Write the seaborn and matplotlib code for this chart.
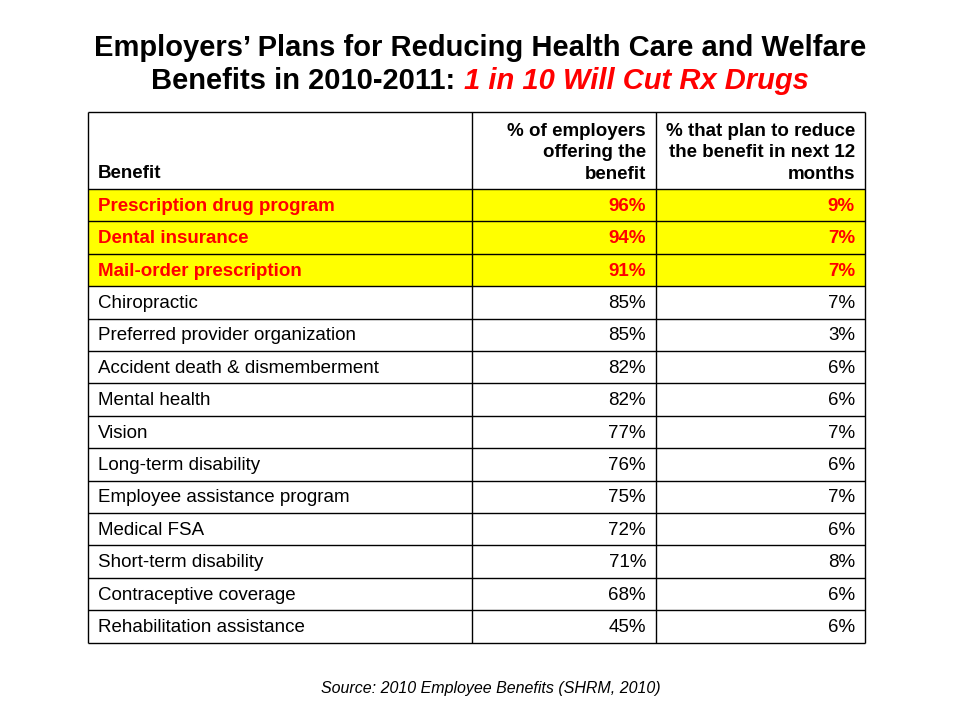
import matplotlib
matplotlib.use("Agg")
import matplotlib.pyplot as plt
from matplotlib.patches import Rectangle
import seaborn as sns
import pandas as pd

sns.set_theme(style="white")
plt.rcParams['font.family'] = ['Liberation Sans', 'DejaVu Sans']
plt.rcParams['text.color'] = 'black'

# table data
benefits = ["Prescription drug program", "Dental insurance", "Mail-order prescription",
            "Chiropractic", "Preferred provider organization", "Accident death & dismemberment",
            "Mental health", "Vision", "Long-term disability", "Employee assistance program",
            "Medical FSA", "Short-term disability", "Contraceptive coverage",
            "Rehabilitation assistance"]
offering = [96, 94, 91, 85, 85, 82, 82, 77, 76, 75, 72, 71, 68, 45]
reducing = [9, 7, 7, 7, 3, 6, 6, 7, 6, 7, 6, 8, 6, 6]
highlight = [True, True, True] + [False] * 11
headers = ["Benefit", "% of employers\noffering the\nbenefit",
           "% that plan to reduce\nthe benefit in next 12\nmonths"]

df = pd.DataFrame({"benefit": benefits, "offering": offering,
                   "reducing": reducing, "highlight": highlight})

fig = plt.figure(figsize=(9.6, 7.2), dpi=100)
ax = fig.add_axes([0, 0, 1, 1])
ax.set_xlim(0, 960)
ax.set_ylim(720, 0)
ax.axis("off")

# layout (pixels)
col_x = [88, 472, 656, 865]
top, head_bot, row_h = 112, 189, 32.4
n = len(df)
bottom = head_bot + n * row_h
fs = 13.5

# yellow rows
for i, r in df.iterrows():
    if r.highlight:
        ax.add_patch(Rectangle((col_x[0], head_bot + i * row_h), col_x[-1] - col_x[0], row_h,
                               facecolor="#ffff00", edgecolor="none", zorder=1))

# grid lines
lw = 1.0
ys = [top, head_bot] + [head_bot + (i + 1) * row_h for i in range(n)]
ax.hlines(ys, col_x[0], col_x[-1], color="black", lw=lw, zorder=2)
ax.vlines(col_x, top, bottom, color="black", lw=lw, zorder=2)

# headers
ax.text(col_x[0] + 10, 174, headers[0], fontsize=fs, fontweight="bold",
        ha="left", va="center", zorder=3)
for j in (1, 2):
    ax.text(col_x[j + 1] - 10, 183, headers[j], fontsize=fs, fontweight="bold",
            ha="right", va="bottom", linespacing=1.35, zorder=3)

# rows
for i, r in df.iterrows():
    yc = head_bot + (i + 0.5) * row_h + 1
    color = "#ff0000" if r.highlight else "black"
    weight = "bold" if r.highlight else "normal"
    ax.text(col_x[0] + 10, yc, r.benefit, fontsize=fs, color=color, fontweight=weight,
            ha="left", va="center", zorder=3)
    ax.text(col_x[2] - 10, yc, f"{r.offering}%", fontsize=fs, color=color, fontweight=weight,
            ha="right", va="center", zorder=3)
    ax.text(col_x[3] - 10, yc, f"{r.reducing}%", fontsize=fs, color=color, fontweight=weight,
            ha="right", va="center", zorder=3)

# title
tfs = 21
ax.text(480, 48, "Employers\u2019 Plans for Reducing Health Care and Welfare", fontsize=tfs,
        fontweight="bold", ha="center", va="center")
part1 = "Benefits in 2010-2011: "
part2 = "1 in 10 Will Cut Rx Drugs"
fig.canvas.draw()
r = fig.canvas.get_renderer()
t1 = ax.text(0, 81, part1, fontsize=tfs, fontweight="bold", ha="left", va="center")
t2 = ax.text(0, 81, part2, fontsize=tfs, fontweight="bold", style="italic",
             color="#ff0000", ha="left", va="center")
w1 = t1.get_window_extent(r).width
w2 = t2.get_window_extent(r).width
x0 = 480 - (w1 + w2) / 2
t1.set_x(x0)
t2.set_x(x0 + w1)

# source
ax.text(491, 689, "Source: 2010 Employee Benefits (SHRM, 2010)", fontsize=11.5,
        style="italic", ha="center", va="center")

fig.savefig("out.png", dpi=100, facecolor="white")
